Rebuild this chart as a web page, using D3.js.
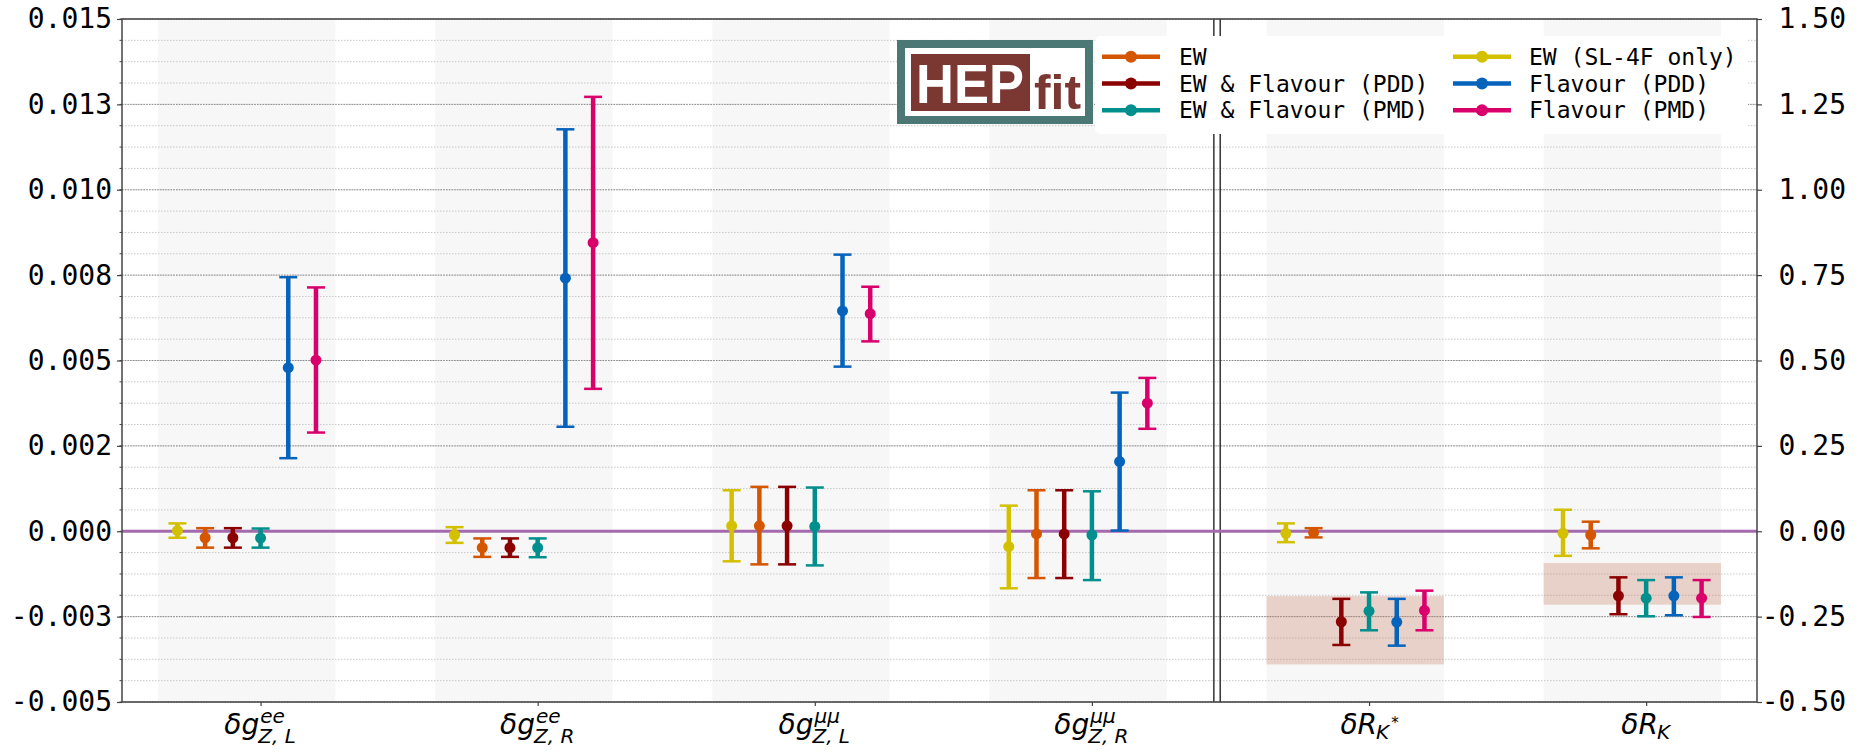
<!DOCTYPE html>
<html>
<head>
<meta charset="utf-8">
<script src="https://cdn.jsdelivr.net/npm/d3@7"></script>
<style>
  body { margin: 0; background: #fff; }
  svg { display: block; }
</style>
</head>
<body>
<div id="chart"></div>
<script>
// categories (first four use the left axis, the R_K ones the right axis)
var categories = ["ee_L", "ee_R", "mumu_L", "mumu_R", "RKstar", "RK"]
var side = ["L", "L", "L", "L", "R", "R"]
var labelMain = ["δg", "δg", "δg", "δg", "δR", "δR"]
var labelSup = ["ee", "ee", "μμ", "μμ", "", ""]
var labelSub = ["Z, L", "Z, R", "Z, L", "Z, R", "K", "K"]
var labelSubSup = ["", "", "", "", "*", ""]

var seriesNames = ["EW (SL-4F only)", "EW", "EW & Flavour (PDD)", "EW & Flavour (PMD)", "Flavour (PDD)", "Flavour (PMD)"]
var seriesColors = ["#d3c000", "#d55600", "#8b0000", "#008f8c", "#0563bb", "#d9006c"]
var seriesOffset = [-0.3, -0.2, -0.1, 0, 0.1, 0.2]

// central values and 1-sigma ranges, one array per series
var sl4fMean = [0.00002, -0.00011, 0.00016, -0.00045, -0.006, -0.006]
var sl4fLow = [-0.00019, -0.00034, -0.00088, -0.00167, -0.032, -0.072]
var sl4fHigh = [0.00023, 0.00012, 0.0012, 0.00075, 0.023, 0.063]

var ewMean = [-0.00019, -0.00048, 0.00016, -0.00008, -0.004, -0.011]
var ewLow = [-0.00048, -0.00075, -0.00097, -0.00137, -0.018, -0.05]
var ewHigh = [0.00009, -0.00021, 0.0013, 0.0012, 0.009, 0.028]

var ewfPddMean = [-0.00019, -0.00048, 0.00016, -0.00008, -0.265, -0.189]
var ewfPddLow = [-0.00048, -0.00075, -0.00097, -0.00137, -0.333, -0.243]
var ewfPddHigh = [0.00009, -0.00021, 0.0013, 0.0012, -0.198, -0.135]

var ewfPmdMean = [-0.0002, -0.00048, 0.00014, -0.00011, -0.234, -0.196]
var ewfPmdLow = [-0.00048, -0.00076, -0.001, -0.00143, -0.29, -0.249]
var ewfPmdHigh = [0.00008, -0.00021, 0.00128, 0.00117, -0.179, -0.143]

var fPddMean = [0.00479, 0.00741, 0.00645, 0.00204, -0.266, -0.189]
var fPddLow = [0.00214, 0.00306, 0.00482, 0.00002, -0.335, -0.246]
var fPddHigh = [0.00744, 0.01177, 0.0081, 0.00406, -0.198, -0.135]

var fPmdMean = [0.00501, 0.00845, 0.00637, 0.00375, -0.232, -0.196]
var fPmdLow = [0.00289, 0.00417, 0.00556, 0.0030, -0.29, -0.251]
var fPmdHigh = [0.00714, 0.01272, 0.00716, 0.00449, -0.174, -0.143]

// experimental R_K* and R_K ranges (right axis)
var expCategory = [4, 5]
var expLow = [-0.39, -0.215]
var expHigh = [-0.19, -0.093]

var leftTicks = [-0.005, -0.0025, 0, 0.0025, 0.005, 0.0075, 0.01, 0.0125, 0.015]
var leftLabels = ["-0.005", "-0.003", "0.000", "0.002", "0.005", "0.008", "0.010", "0.013", "0.015"]
var rightTicks = [-0.5, -0.25, 0, 0.25, 0.5, 0.75, 1, 1.25, 1.5]
var rightLabels = ["-0.50", "-0.25", "0.00", "0.25", "0.50", "0.75", "1.00", "1.25", "1.50"]

var legendCol1 = [1, 2, 3]
var legendCol2 = [0, 4, 5]

var means = [sl4fMean, ewMean, ewfPddMean, ewfPmdMean, fPddMean, fPmdMean]
var lows = [sl4fLow, ewLow, ewfPddLow, ewfPmdLow, fPddLow, fPmdLow]
var highs = [sl4fHigh, ewHigh, ewfPddHigh, ewfPmdHigh, fPddHigh, fPmdHigh]

var W = 1859, H = 752
var pLeft = 122, pRight = 1757, pTop = 19, pBottom = 702
var mono = "'DejaVu Sans Mono', monospace"

var svg = d3.select("#chart").append("svg")
  .attr("width", W).attr("height", H)

var x = d3.scaleLinear().domain([-0.5, 5.4]).range([pLeft, pRight])
var yL = d3.scaleLinear().domain([-0.005, 0.015]).range([pBottom, pTop])
var yR = d3.scaleLinear().domain([-0.5, 1.5]).range([pBottom, pTop])

// light bands behind each category
svg.selectAll("rect.band")
  .data(categories)
  .enter()
  .append("rect")
  .attr("x", (d, i) => x(i - 0.37))
  .attr("width", (d, i) => x(i + 0.27) - x(i - 0.37))
  .attr("y", pTop)
  .attr("height", pBottom - pTop)
  .attr("fill", "#f7f7f7")

// grid
var minor = d3.range(-0.005, 0.0150001, 0.000625)
svg.selectAll("line.minor")
  .data(minor)
  .enter()
  .append("line")
  .attr("x1", pLeft).attr("x2", pRight)
  .attr("y1", d => yL(d)).attr("y2", d => yL(d))
  .attr("stroke", "#c8c8c8")
  .attr("stroke-width", 1)
  .attr("stroke-dasharray", "1.5,1.5")

svg.selectAll("line.major")
  .data(leftTicks)
  .enter()
  .append("line")
  .attr("x1", pLeft).attr("x2", pRight)
  .attr("y1", d => yL(d)).attr("y2", d => yL(d))
  .attr("stroke", "#8a8a8a")
  .attr("stroke-width", 1)
  .attr("stroke-dasharray", "1.5,1.2")

// double separator between Z couplings and R_K ratios
;[3.44, 3.463].forEach(function (v) {
  svg.append("line")
    .attr("x1", x(v)).attr("x2", x(v))
    .attr("y1", pTop).attr("y2", pBottom)
    .attr("stroke", "#333")
    .attr("stroke-width", 1.5)
})

// experimental ranges
svg.selectAll("rect.exp")
  .data(expCategory)
  .enter()
  .append("rect")
  .attr("x", d => x(d - 0.37))
  .attr("width", d => x(d + 0.27) - x(d - 0.37))
  .attr("y", (d, i) => yR(expHigh[i]))
  .attr("height", (d, i) => yR(expLow[i]) - yR(expHigh[i]))
  .attr("fill", "rgb(195,110,80)")
  .attr("fill-opacity", 0.28)

// zero line
svg.append("line")
  .attr("x1", pLeft).attr("x2", pRight)
  .attr("y1", yL(0)).attr("y2", yL(0))
  .attr("stroke", "#a56aad")
  .attr("stroke-width", 3)

// axes
var axL = svg.append("g")
  .attr("transform", "translate(" + pLeft + ",0)")
  .call(d3.axisLeft(yL).tickValues(leftTicks).tickFormat((d, i) => leftLabels[i]).tickSize(5).tickPadding(5))
var axR = svg.append("g")
  .attr("transform", "translate(" + pRight + ",0)")
  .call(d3.axisRight(yR).tickValues(rightTicks).tickFormat((d, i) => rightLabels[i]).tickSize(5).tickPadding(6))
var axB = svg.append("g")
  .attr("transform", "translate(0," + pBottom + ")")
  .call(d3.axisBottom(x).tickValues(d3.range(categories.length)).tickFormat("").tickSize(4))

;[axL, axR, axB].forEach(function (a) {
  a.select(".domain").remove()
  a.selectAll("line").attr("stroke", "#444").attr("stroke-width", 1.2)
  a.selectAll("text").attr("font-family", mono).attr("font-size", 28).attr("fill", "#000")
})
axR.selectAll("text")
  .attr("text-anchor", "end")
  .attr("x", 1846 - pRight)

// left minor ticks
svg.selectAll("line.mtick")
  .data(minor)
  .enter()
  .append("line")
  .attr("x1", pLeft - 2.5).attr("x2", pLeft)
  .attr("y1", d => yL(d)).attr("y2", d => yL(d))
  .attr("stroke", "#444")

svg.append("rect")
  .attr("x", pLeft).attr("y", pTop)
  .attr("width", pRight - pLeft).attr("height", pBottom - pTop)
  .attr("fill", "none")
  .attr("stroke", "#444")
  .attr("stroke-width", 1.5)

// category labels
var lab = svg.append("g").attr("font-family", "'DejaVu Sans', sans-serif").attr("font-style", "italic")
categories.forEach(function (c, i) {
  var main = lab.append("text").text(labelMain[i]).attr("font-size", 28).attr("y", 734)
  var sup = lab.append("text").text(labelSup[i]).attr("font-size", 20).attr("y", 723)
  var sub = lab.append("text").attr("font-size", 20).attr("y", labelSup[i] ? 743 : 739)
  sub.append("tspan").text(labelSub[i])
  if (labelSubSup[i]) {
    sub.append("tspan").text(labelSubSup[i]).attr("font-size", 15).attr("dy", -11).attr("dx", 2)
  }
  var mw = main.node().getComputedTextLength()
  var sw = Math.max(sup.node().getComputedTextLength(), sub.node().getComputedTextLength())
  var x0 = x(i) - (mw + sw) / 2
  main.attr("x", x0)
  sup.attr("x", x0 + mw + 1)
  sub.attr("x", x0 + mw - 1)
})

// error bars
seriesNames.forEach(function (name, s) {
  var g = svg.append("g")
  var col = seriesColors[s]
  categories.forEach(function (c, i) {
    var y = side[i] == "L" ? yL : yR
    var cx = x(i + seriesOffset[s])
    g.append("line")
      .attr("x1", cx).attr("x2", cx)
      .attr("y1", y(lows[s][i])).attr("y2", y(highs[s][i]))
      .attr("stroke", col).attr("stroke-width", 4.5)
    ;[lows[s][i], highs[s][i]].forEach(function (v) {
      g.append("line")
        .attr("x1", cx - 9).attr("x2", cx + 9)
        .attr("y1", y(v)).attr("y2", y(v))
        .attr("stroke", col).attr("stroke-width", 2.5)
    })
    g.append("circle")
      .attr("cx", cx).attr("cy", y(means[s][i]))
      .attr("r", 5.5)
      .attr("fill", col)
  })
})

// legend
var leg = svg.append("g")
leg.append("rect")
  .attr("x", 1095).attr("y", 36)
  .attr("width", 653).attr("height", 98)
  .attr("rx", 5)
  .attr("fill", "#fff")

function legendColumn(list, hx, tx) {
  list.forEach(function (s, r) {
    var ly = 56.7 + r * 26.8
    leg.append("line")
      .attr("x1", hx - 29).attr("x2", hx + 29)
      .attr("y1", ly).attr("y2", ly)
      .attr("stroke", seriesColors[s]).attr("stroke-width", 4.5)
    leg.append("circle")
      .attr("cx", hx).attr("cy", ly).attr("r", 6)
      .attr("fill", seriesColors[s])
    leg.append("text")
      .text(seriesNames[s])
      .attr("x", tx).attr("y", ly + 8)
      .attr("font-family", mono).attr("font-size", 23)
      .attr("fill", "#000")
  })
}
legendColumn(legendCol1, 1131, 1179)
legendColumn(legendCol2, 1482, 1529)

// HEPfit logo
var logo = svg.append("g")
logo.append("rect")
  .attr("x", 901).attr("y", 44)
  .attr("width", 188).attr("height", 76)
  .attr("fill", "#fff")
  .attr("stroke", "#4b7875").attr("stroke-width", 8)
logo.append("rect")
  .attr("x", 911).attr("y", 54)
  .attr("width", 119).attr("height", 57)
  .attr("fill", "#7b3833")
logo.append("text")
  .text("HEP")
  .attr("x", 916).attr("y", 103)
  .attr("font-family", "'Liberation Sans', Arial, sans-serif")
  .attr("font-weight", "bold").attr("font-size", 56)
  .attr("textLength", 108).attr("lengthAdjust", "spacingAndGlyphs")
  .attr("fill", "#fff")
logo.append("text")
  .text("fit")
  .attr("x", 1034).attr("y", 109)
  .attr("font-family", "'Liberation Sans', Arial, sans-serif")
  .attr("font-weight", "bold").attr("font-size", 48)
  .attr("textLength", 47).attr("lengthAdjust", "spacingAndGlyphs")
  .attr("fill", "#7b3833")
</script>
</body>
</html>
